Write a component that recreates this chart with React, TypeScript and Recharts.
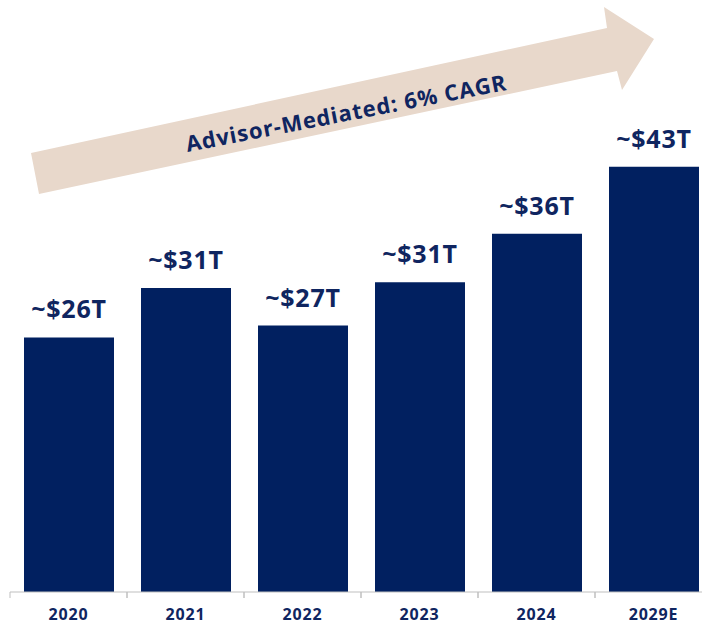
import { BarChart, Bar, XAxis, YAxis, LabelList } from 'recharts';

const years = ['2020', '2021', '2022', '2023', '2024', '2029E'];
const assets = [25.8, 30.8, 27.0, 31.4, 36.3, 43.1];
const valueLabels = ['~$26T', '~$31T', '~$27T', '~$31T', '~$36T', '~$43T'];
const arrowText = 'Advisor-Mediated: 6% CAGR';

const data = years.map((year, i) => ({ year, value: assets[i], label: valueLabels[i] }));

const NAVY = '#012060';
const TEXT = '#0f2560';
const AXIS = '#bfbfbf';
const FONT = '"Open Sans", sans-serif';

// year label plus the boundary tick on its left edge
const YearTick = (props: any) => {
  const { x, y, payload, width } = props;
  const half = (width || 702) / years.length / 2;
  return (
    <g>
      <line x1={x - half} x2={x - half} y1={y} y2={y + 6} stroke={AXIS} />
      <line x1={x + half} x2={x + half} y1={y} y2={y + 6} stroke={AXIS} />
      <text
        x={x}
        y={y + 28}
        textAnchor="middle"
        fill={TEXT}
        fontSize={16}
        fontWeight={700}
        fontFamily={FONT}
        letterSpacing={0.8}
      >
        {payload.value}
      </text>
    </g>
  );
};

export default function App() {
  return (
    <div
      style={{
        position: 'absolute',
        left: 0,
        top: 0,
        width: 702,
        height: 631,
        overflow: 'hidden',
        background: '#fff',
        fontFamily: FONT,
      }}
    >
      {/* growth arrow annotation */}
      <svg width={702} height={631} style={{ position: 'absolute', left: 0, top: 0 }}>
        <polygon
          points="31,153 607,28 604,7 654,39 622,90 617,71 39,194"
          fill="#e8d8cb"
        />
        <text
          x={346}
          y={112}
          transform="rotate(-11 346 112)"
          textAnchor="middle"
          dominantBaseline="central"
          fontFamily={FONT}
          fontWeight={700}
          fontSize={22}
          letterSpacing={0.9}
          fill={TEXT}
        >
          {arrowText}
        </text>
      </svg>
      <div style={{ position: 'absolute', left: 0, top: 0 }}>
        <BarChart
          width={720}
          height={631}
          data={data}
          margin={{ top: 0, right: 8, left: 10, bottom: 0 }}
        >
          <XAxis
            dataKey="year"
            height={39}
            axisLine={{ stroke: AXIS }}
            tickLine={false}
            tickSize={0}
            tickMargin={0}
            tick={<YearTick />}
            interval={0}
          />
          <YAxis hide domain={[0, 60]} />
          <Bar dataKey="value" fill={NAVY} barSize={90} isAnimationActive={false}>
            <LabelList
              dataKey="label"
              position="top"
              offset={19}
              fill={TEXT}
              fontSize={25}
              fontWeight={700}
              fontFamily={FONT}
              letterSpacing={0.8}
            />
          </Bar>
        </BarChart>
      </div>
    </div>
  );
}
